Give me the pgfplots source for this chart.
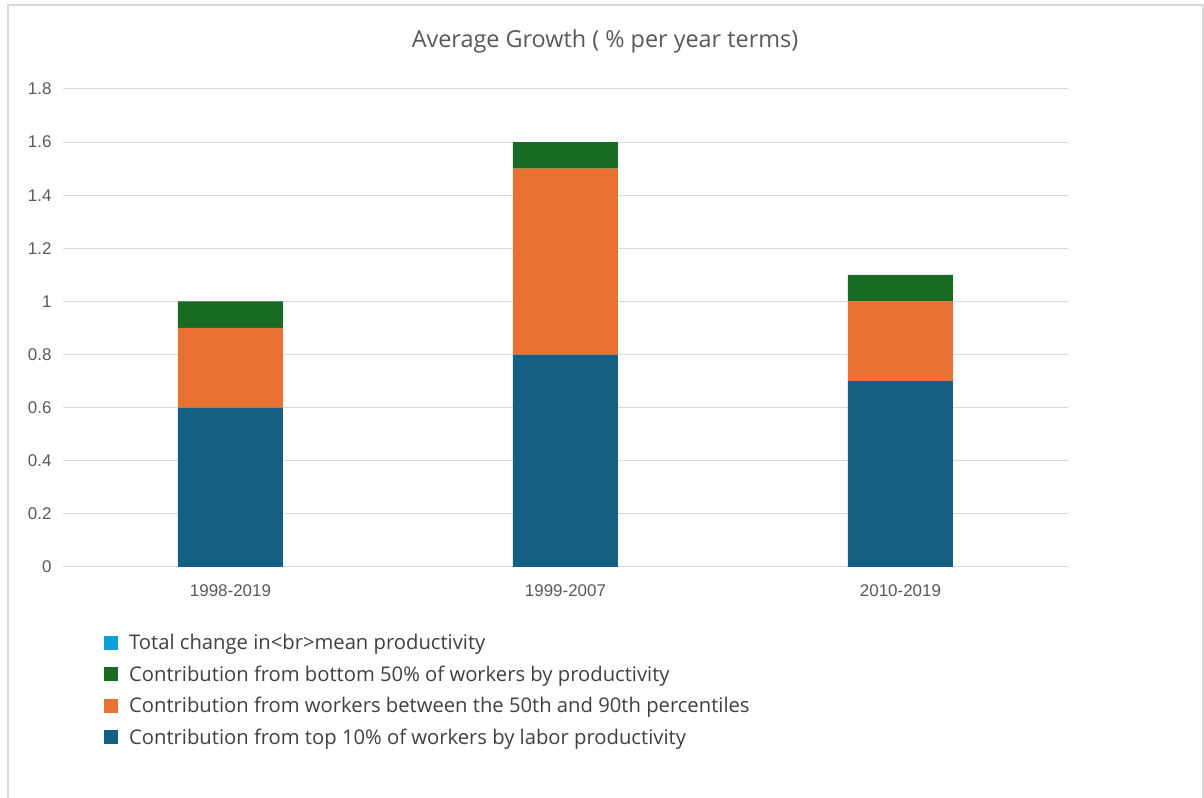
\documentclass[border=0pt]{standalone}
\usepackage{pgfplots}
\pgfplotsset{compat=1.18}
\usepackage{fontspec}
\setmainfont{Open Sans}
\newfontfamily\tickfont{Liberation Sans}
\definecolor{cblue}{HTML}{156082}
\definecolor{corange}{HTML}{E97132}
\definecolor{cgreen}{HTML}{196B24}
\definecolor{clight}{HTML}{0F9ED5}
\definecolor{gridc}{HTML}{D9D9D9}
\definecolor{txt}{HTML}{595959}
\definecolor{legtxt}{HTML}{404040}
\begin{document}
\begin{tikzpicture}
\useasboundingbox (0bp,0bp) rectangle (1204bp,798bp);
\fill[white] (0bp,0bp) rectangle (1204bp,798bp);
\draw[color=gridc, line width=1.2bp] (8bp,-2bp) -- (8bp,793bp) -- (1203bp,793bp) -- (1203bp,-2bp);
\node[font=\fontsize{23.5}{28}\selectfont, text=txt] at (605bp,757bp) {Average Growth ( \% per year terms)};
\begin{axis}[
  at={(63bp,231bp)}, anchor=south west,
  scale only axis, width=1005bp, height=478bp,
  ybar stacked, bar width=105bp,
  xmin=-0.5, xmax=2.5, ymin=0, ymax=1.8,
  xtick={0,1,2}, xticklabels={1998-2019,1999-2007,2010-2019},
  ytick={0,0.2,0.4,0.6,0.8,1,1.2,1.4,1.6,1.8},
  ymajorgrids, grid style={color=gridc, line width=1bp},
  axis line style={draw=none},
  major tick length=0pt,
  tick label style={font=\tickfont\fontsize{17}{19}\selectfont, text=txt},
  /pgf/number format/assume math mode=true,
  yticklabel style={xshift=-8bp},
  xticklabel style={yshift=-14bp},
  legend style={at={(0.0378,-0.132)}, anchor=north west, draw=none, fill=none,
    font=\fontsize{20.3}{24}\selectfont, text=legtxt, row sep=10.5bp,
    /tikz/every odd column/.append style={column sep=9bp}},
  legend cell align=left,
  reverse legend,
  legend image code/.code={\fill[#1] (0bp,-7bp) rectangle (14bp,7bp);},
]
\addplot[fill=cblue, draw=none] coordinates {(0,0.6) (1,0.8) (2,0.7)};
\addlegendentry{Contribution from top 10\% of workers by labor productivity}
\addplot[fill=corange, draw=none] coordinates {(0,0.3) (1,0.7) (2,0.3)};
\addlegendentry{Contribution from workers between the 50th and 90th percentiles}
\addplot[fill=cgreen, draw=none] coordinates {(0,0.1) (1,0.1) (2,0.1)};
\addlegendentry{Contribution from bottom 50\% of workers by productivity}
\addlegendimage{fill=clight, draw=none}
\addlegendentry{Total change in<br>mean productivity}
\end{axis}
\end{tikzpicture}
\end{document}
